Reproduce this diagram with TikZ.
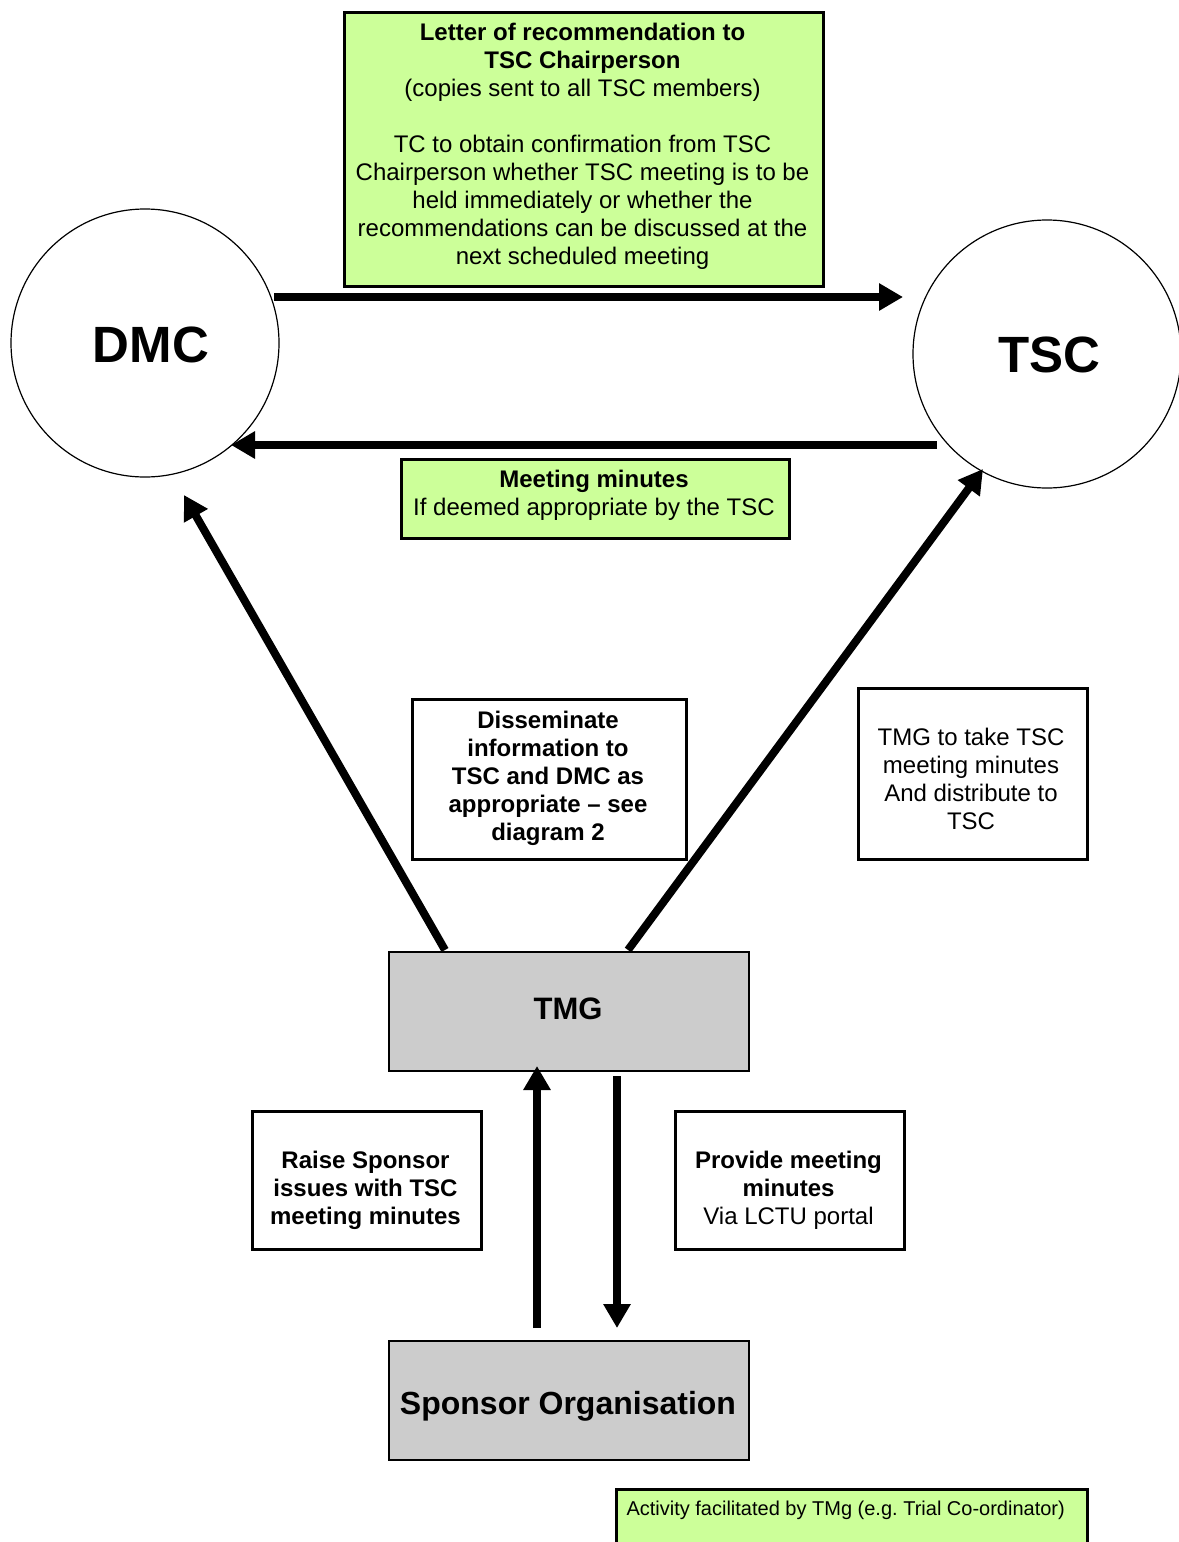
\documentclass[tikz,border=0pt]{standalone}
\usepackage{fontspec}
\setmainfont{Liberation Sans}
\usetikzlibrary{arrows.meta}
\frenchspacing
\definecolor{lgreen}{HTML}{CCFF99}
\definecolor{lgray}{HTML}{CCCCCC}
\tikzset{
  txt/.style={font=\fontsize{24}{28}\selectfont, align=center},
  btxt/.style={font=\fontsize{24}{28}\selectfont\bfseries, align=center},
  greenbox/.style={draw=black, line width=2.5pt, fill=lgreen, inner sep=0pt},
  whitebox/.style={draw=black, line width=2.5pt, fill=white, inner sep=0pt},
  graybox/.style={draw=black, line width=2pt, fill=lgray, inner sep=0pt},
  circ/.style={draw=black, line width=1.2pt, circle, minimum size=268pt, inner sep=0pt},
  bigarrow/.style={line width=8pt, -{Triangle[length=24pt,width=26pt]}},
}
\begin{document}
\begin{tikzpicture}[x=1pt,y=-1pt]
\useasboundingbox (0,0) rectangle (1178,1542);
% circles
\node[circ] (dmc) at (145,343) {};
\node[font=\fontsize{51}{51}\selectfont\bfseries] (dmct) at (151,345) {DMC};
\node[circ] (tsc) at (1047,354) {};
\node[font=\fontsize{51}{51}\selectfont\bfseries] (tsct) at (1049,355) {TSC};
% top green box
\node[greenbox, minimum width=479pt, minimum height=274pt, anchor=north west] (letter) at (343,11) {};
\node[txt, anchor=north] (lettert) at (582.5,19.5) {\textbf{Letter of recommendation to}\\ \textbf{TSC Chairperson}\\ (copies sent to all TSC members)\\[28pt] TC to obtain confirmation from TSC\\ Chairperson whether TSC meeting is to be\\ held immediately or whether the\\ recommendations can be discussed at the\\ next scheduled meeting};
% meeting minutes box
\node[greenbox, minimum width=388pt, minimum height=79pt, anchor=north west] (mm) at (400,458) {};
\node[txt] (mmt) at (594,495) {\textbf{Meeting minutes}\\ If deemed appropriate by the TSC};
% disseminate box
\node[whitebox, minimum width=274pt, minimum height=160pt, anchor=north west] (diss) at (411,698) {};
\node[btxt] (disst) at (548,778) {Disseminate\\ information to\\ TSC and DMC as\\ appropriate -- see\\ diagram 2};
% TMG take minutes box
\node[whitebox, minimum width=229pt, minimum height=171pt, anchor=north west] (take) at (857,687) {};
\node[txt] (taket) at (971,779) {TMG to take TSC\\ meeting minutes\\ And distribute to\\ TSC};
% TMG
\node[graybox, minimum width=360pt, minimum height=119pt, anchor=north west] (tmg) at (388,951) {};
\node[font=\fontsize{31}{31}\selectfont\bfseries] (tmgt) at (568,1009) {TMG};
% Raise sponsor box
\node[whitebox, minimum width=229pt, minimum height=138pt, anchor=north west] (raise) at (251,1110) {};
\node[btxt] (raiset) at (365.5,1190) {Raise Sponsor\\ issues with TSC\\ meeting minutes};
% Provide minutes box
\node[whitebox, minimum width=229pt, minimum height=138pt, anchor=north west] (prov) at (674,1110) {};
\node[txt] (provt) at (788.5,1190) {\textbf{Provide meeting}\\ \textbf{minutes}\\ Via LCTU portal};
% Sponsor organisation
\node[graybox, minimum width=360pt, minimum height=119pt, anchor=north west] (spon) at (388,1340) {};
\node[font=\fontsize{32}{32}\selectfont\bfseries] (spont) at (568,1406) {Sponsor Organisation};
% legend
\node[greenbox, minimum width=471pt, minimum height=70pt, anchor=north west] (leg) at (615,1488) {};
\node[font=\fontsize{20}{24}\selectfont, anchor=west] (legt) at (623,1510) {Activity facilitated by TMg (e.g.\ Trial Co-ordinator)};
% arrow coordinates
\coordinate (a1s) at (274,297);
\coordinate (a1e) at (903,297);
\coordinate (a2s) at (937,445);
\coordinate (a2e) at (231,445);
\coordinate (a3s) at (445,950);
\coordinate (a3e) at (184,495);
\coordinate (a4s) at (628,950);
\coordinate (a4e) at (983,469);
\coordinate (a5s) at (537,1328);
\coordinate (a5e) at (537,1066);
\coordinate (a6s) at (617,1076);
\coordinate (a6e) at (617,1328);
\draw[bigarrow] (a1s) -- (a1e);
\draw[bigarrow] (a2s) -- (a2e);
\draw[bigarrow] (a3s) -- (a3e);
\draw[bigarrow] (a4s) -- (a4e);
\draw[bigarrow] (a5s) -- (a5e);
\draw[bigarrow] (a6s) -- (a6e);
\end{tikzpicture}
\end{document}
